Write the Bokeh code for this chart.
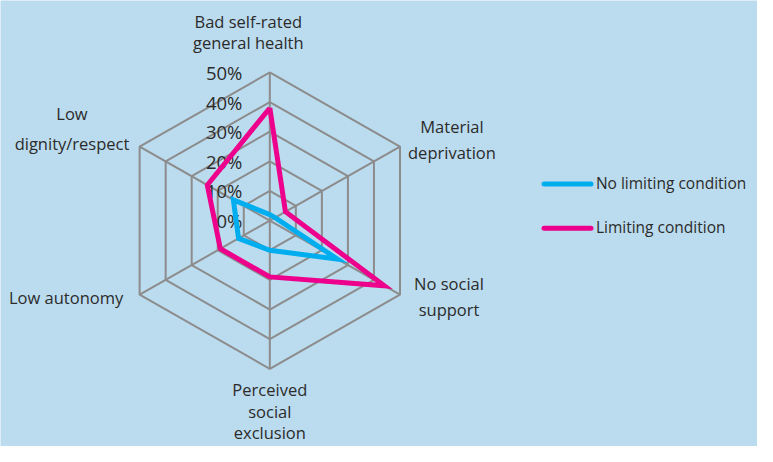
import numpy as np
from bokeh.plotting import figure
from bokeh.models import Range1d
from bokeh.core.properties import value
from bokeh.embed import file_html
from bokeh.resources import INLINE

# ---- data ----
categories = ["Bad self-rated\ngeneral health", "Material\ndeprivation", "No social\nsupport",
              "Perceived\nsocial\nexclusion", "Low autonomy", "Low\ndignity/respect"]
no_limiting = [2, 2, 26, 10, 12, 14]
limiting = [38, 6, 44, 19, 19, 24]
series_names = ["No limiting condition", "Limiting condition"]
tick_values = [0, 10, 20, 30, 40, 50]
tick_labels = ["0%", "10%", "20%", "30%", "40%", "50%"]

# ---- style ----
BG = "#BBDBEE"
GRID = "#8C8C8C"
TXT = "#2B2B2B"
COLORS = ["#00AEEF", "#EC008C"]
FONT = "Open Sans"

# layout in reference-image pixels (773 x 462) -> data units (1 unit = 1 percentage point)
S = 3.07           # px per percentage point
CX, CY = 275, 228  # centre of the radar
REF_W, REF_H = 773, 462


def sx(px):
    return (px - CX) / S


def sy(py):
    return (CY - py) / S


n = len(categories)
angles = np.deg2rad(90 - 60 * np.arange(n))

p = figure(width=757, height=446, output_backend="svg", toolbar_location=None,
           x_range=Range1d(sx(0), sx(REF_W)), y_range=Range1d(sy(REF_H), sy(0)),
           min_border=0, outline_line_color=None,
           background_fill_color=BG, border_fill_color=BG)
p.axis.visible = False
p.grid.visible = False

# grid rings
for v in tick_values[1:]:
    xs = list(v * np.cos(angles)) + [v * np.cos(angles[0])]
    ys = list(v * np.sin(angles)) + [v * np.sin(angles[0])]
    p.line(xs, ys, line_color=GRID, line_width=2)

# spokes
vmax = tick_values[-1]
p.segment(x0=[0] * n, y0=[0] * n, x1=list(vmax * np.cos(angles)), y1=list(vmax * np.sin(angles)),
          line_color=GRID, line_width=2)

# tick labels
p.text(x=[sx(247)] * len(tick_values), y=tick_values, text=tick_labels,
       text_align="right", text_baseline="middle", text_font=value(FONT),
       text_font_size="18.5px", text_color=TXT)

# series
for vals, col in zip([no_limiting, limiting], COLORS):
    xs = [v * np.cos(a) for v, a in zip(vals, angles)]
    ys = [v * np.sin(a) for v, a in zip(vals, angles)]
    xs.append(xs[0]); ys.append(ys[0])
    p.line(xs, ys, line_color=col, line_width=5, line_join="miter")

# category labels (centre x, first line y, line spacing) in reference pixels
label_pos = [(253, 22, 21), (461, 131, 26), (458, 293, 27), (275, 403, 22.5), (67, 308, 0), (73, 117, 31)]
for cat, (lx, ly, dl) in zip(categories, label_pos):
    lines = cat.split("\n")
    p.text(x=[sx(lx)] * len(lines), y=[sy(ly + i * dl) for i in range(len(lines))], text=lines,
           text_align="center", text_baseline="middle", text_font=value(FONT),
           text_font_size="16.5px", text_color=TXT)

# legend
leg_y = [190, 236]
p.segment(x0=[sx(555)] * 2, y0=[sy(y) for y in leg_y], x1=[sx(603)] * 2, y1=[sy(y) for y in leg_y],
          line_color=COLORS, line_width=5, line_cap="round")
p.text(x=[sx(608)] * 2, y=[sy(y - 1) for y in leg_y], text=series_names,
       text_align="left", text_baseline="middle", text_font=value(FONT),
       text_font_size="15.5px", text_color=TXT)

open("out.html", "w").write(file_html(p, INLINE))
